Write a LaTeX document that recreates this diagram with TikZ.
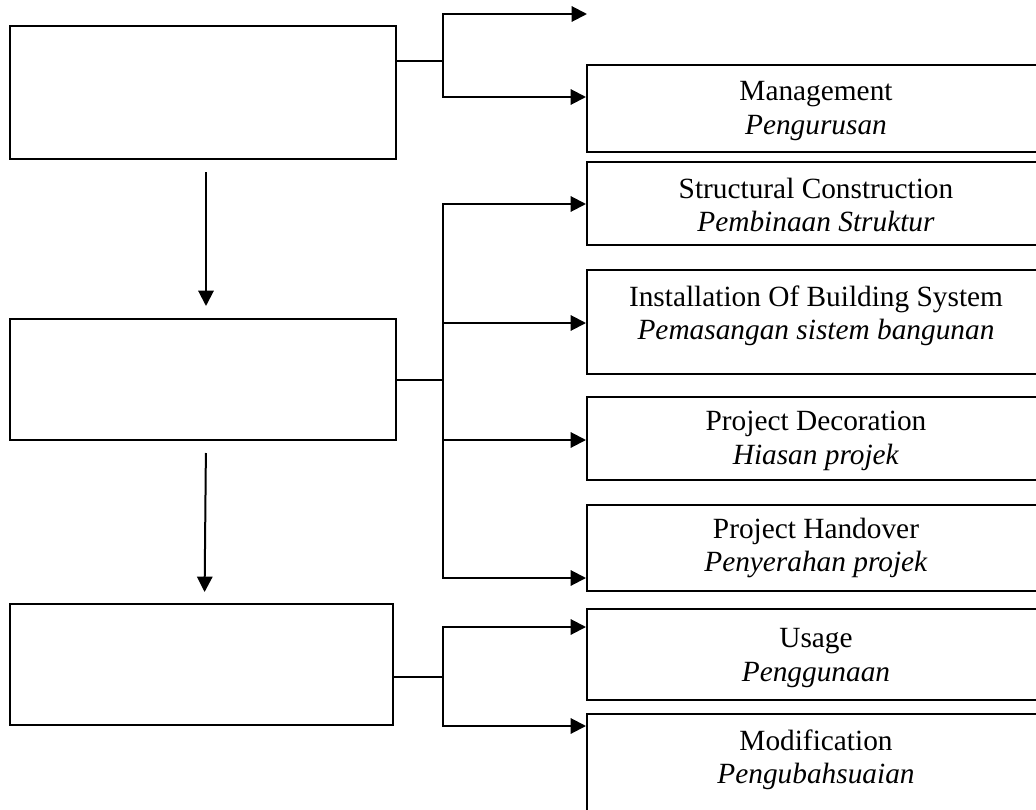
\documentclass[tikz,border=0pt]{standalone}
\usepackage{fontspec}
\setmainfont{Liberation Serif}
\usetikzlibrary{arrows.meta}

\tikzset{
  line/.style={line width=1.5pt, line cap=rect},
  arr/.style={line width=1.5pt, -{Triangle[length=11.5pt,width=11.5pt]}},
  stagebox/.style={draw, line width=1.5pt, rectangle, inner sep=0pt, minimum width=289.5pt},
  rbox/.style={draw, line width=1.5pt, rectangle, inner sep=0pt, minimum width=343.5pt},
  txt/.style={align=center, inner sep=0pt, font=\fontsize{22}{25}\selectfont},
}

\begin{document}
\begin{tikzpicture}[x=0.75pt, y=-0.75pt]
\useasboundingbox (0,0) rectangle (1036,810);
\clip (0,0) rectangle (1036,810);
\fill[white] (0,0) rectangle (1036,810);

% stage boxes on the left
\node[stagebox, minimum height=99.75pt] (A) at (203,92.5) {};
\node[stagebox, minimum height=90.75pt] (B) at (203,379.5) {};
\node[stagebox, minimum width=287.25pt, minimum height=90.75pt] (C) at (201.5,664.5) {};

% activity boxes on the right
\node[rbox, minimum height=65.25pt] (r1) at (816,108.5) {};
\node[rbox, minimum height=62.25pt] (r2) at (816,203.5) {};
\node[rbox, minimum height=78pt]    (r3) at (816,322) {};
\node[rbox, minimum height=62.25pt] (r4) at (816,438.5) {};
\node[rbox, minimum height=64.5pt]  (r5) at (816,548) {};
\node[rbox, minimum height=68.25pt] (r6) at (816,654.5) {};
\node[rbox, minimum height=87pt]    (r7) at (816,772) {};

% labels
\node[txt] (t1) at (816,111) {Management\\\textit{Pengurusan}};
\node[txt] (t2) at (816,205) {Structural Construction\\\textit{Pembinaan Struktur}};
\node[txt] (t3) at (816,316) {Installation Of Building System\\\textit{Pemasangan sistem bangunan}};
\node[txt] (t4) at (816,441) {Project Decoration\\\textit{Hiasan projek}};
\node[txt] (t5) at (816,548) {Project Handover\\\textit{Penyerahan projek}};
\node[txt] (t6) at (816,658) {Usage\\\textit{Penggunaan}};
\node[txt] (t7) at (816,760) {Modification\\\textit{Pengubahsuaian}};

% flow between stages
\draw[arr, shorten <=9pt, shorten >=9pt] ([xshift=2.25pt]A.south) -- ([xshift=2.25pt]B.north);
\draw[arr, shorten <=9pt, shorten >=8.25pt] ([xshift=2.25pt]B.south) -- ([xshift=2.25pt]C.north);

% branching from the first stage
\coordinate (j1) at (443,61);
\coordinate (free) at (587,14);
\draw[line] (A.east |- j1) -- (j1);
\draw[arr] (j1) |- (free);
\draw[arr] (j1) |- (r1.west |- 0,97);

% branching from the second stage
\coordinate (j2) at (443,380);
\draw[line] (B.east |- j2) -- (j2);
\draw[arr] (j2) |- (r2.west |- 0,204);
\draw[arr] (j2) |- (r3.west |- 0,323);
\draw[arr] (j2) |- (r4.west |- 0,440);
\draw[arr] (j2) |- (r5.west |- 0,578);

% branching from the third stage
\coordinate (j3) at (443,677);
\draw[line] (C.east |- j3) -- (j3);
\draw[arr] (j3) |- (r6.west |- 0,627);
\draw[arr] (j3) |- (r7.west |- 0,726);
\end{tikzpicture}
\end{document}
